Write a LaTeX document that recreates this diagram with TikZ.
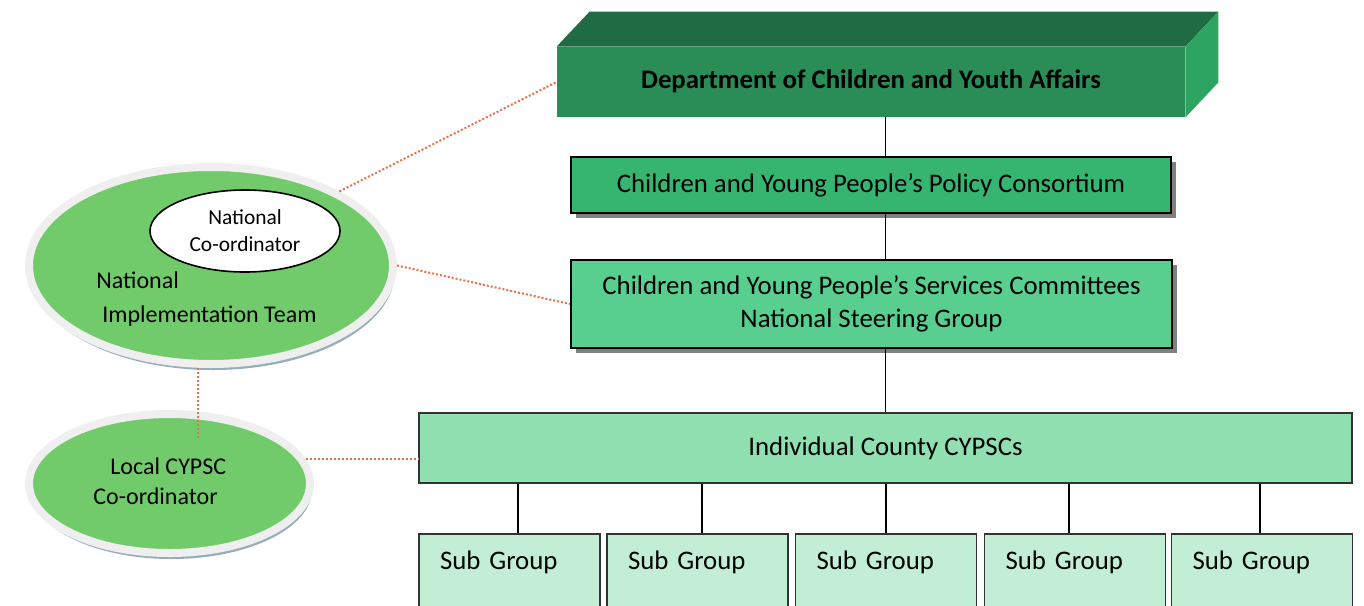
\documentclass[tikz,border=0pt]{standalone}
\usepackage{fontspec}
\setmainfont{Carlito}
\usetikzlibrary{shapes.geometric,shadows}
\definecolor{depttop}{HTML}{1F6B43}
\definecolor{deptfront}{HTML}{2A8C57}
\definecolor{deptside}{HTML}{2EA463}
\definecolor{policygreen}{HTML}{35B570}
\definecolor{servgreen}{HTML}{58CF8E}
\definecolor{countygreen}{HTML}{8FDFB1}
\definecolor{subgreen}{HTML}{C3EED6}
\definecolor{ovalgreen}{HTML}{72CB6A}
\definecolor{rimgray}{HTML}{EFEFEF}
\definecolor{rimblue}{HTML}{95AEBB}
\definecolor{linkorange}{HTML}{E8714A}

\begin{document}
\begin{tikzpicture}[x=0.5pt,y=-0.5pt,
  font=\fontsize{13.4}{16.5}\selectfont,
  box/.style={draw=black,line width=1.2pt,align=center,
    drop shadow={shadow xshift=2.5pt,shadow yshift=-2.5pt,fill=black!50,opacity=1}},
  subbox/.style={draw=black!80,line width=0.8pt,fill=subgreen,anchor=north,
    minimum width=90.5pt,text width=69.5pt,inner xsep=10.5pt,inner ysep=6pt,
    text height=12pt,text depth=32pt,align=left},
  oval/.style={ellipse,fill=ovalgreen,draw=rimgray,line width=4pt,
    drop shadow={shadow xshift=1pt,shadow yshift=-3pt,fill=rimblue,opacity=1}},
  link/.style={linkorange,line width=1pt,densely dotted},
  tie/.style={line width=0.8pt}]
\useasboundingbox (0,0) rectangle (1364,605);

% top block
\node[fill=deptfront,minimum width=314pt,minimum height=35pt,text height=11pt,text depth=5pt,
  font=\fontsize{13.4}{16}\selectfont\bfseries] (dept) at (871,82)
  {Department of Children and Youth Affairs};
\fill[depttop] (dept.north west) -- ++(16.5pt,17.5pt)
  -- ([xshift=16.5pt,yshift=17.5pt]dept.north east) -- (dept.north east) -- cycle;
\fill[deptside] (dept.north east) -- ++(16.5pt,17.5pt)
  -- ([xshift=16.5pt,yshift=17.5pt]dept.south east) -- (dept.south east) -- cycle;

\node[box,fill=policygreen,minimum width=300pt,minimum height=28pt] (policy) at (871,185)
  {Children and Young People’s Policy Consortium};
\node[box,fill=servgreen,minimum width=300.5pt,minimum height=44pt] (services) at (871.5,304)
  {Children and Young People’s Services Committees\\National Steering Group};
\node[draw=black!80,line width=0.8pt,fill=countygreen,minimum width=466.5pt,
  minimum height=35pt] (county) at (885.5,448) {Individual County CYPSCs};

\foreach \i/\x/\s in {1/509.5/4.25,2/697.5/2.25,3/886/0,4/1075/-3,5/1262/-1}{
  \node[subbox] (sub\i) at (\x,533) {Sub Group};
  \draw[tie] ([xshift=\s pt]sub\i.north) -- ([xshift=\s pt]sub\i.north |- county.south);
}

\draw[tie] (dept.south -| county) -- (policy.north -| county);
\draw[tie] (policy.south -| county) -- (services.north -| county);
\draw[tie] (services.south -| county) -- (county.north);

% left ovals
\node[oval,minimum width=182pt,minimum height=98.5pt] (nit) at (211,265.5) {};
\node[draw=black,line width=0.8pt,fill=white,ellipse,minimum width=95pt,minimum height=41pt,
  inner sep=0pt,align=center,font=\fontsize{10.7}{13.5}\selectfont] (natco) at (245,231)
  {National\\Co-ordinator};
\node[anchor=west,align=left,inner sep=0pt,font=\fontsize{12}{17}\selectfont] (nittext) at (96,299)
  {National\\\hspace*{3pt}Implementation Team};
\node[oval,minimum width=140.5pt,minimum height=69.5pt] (local) at (169.5,483.5) {};
\node[anchor=west,align=left,inner sep=0pt,font=\fontsize{12}{15}\selectfont] (localtext) at (93,481)
  {\hspace*{8.5pt}Local CYPSC\\Co-ordinator};

\coordinate (drop) at (198,440);
\draw[link] (nit.30) -- (dept.west);
\draw[link] (nit.east) -- (services.west);
\draw[link] (nit.south -| drop) -- (drop);
\draw[link] (local.10.5) -- (local.10.5 -| county.west);
\end{tikzpicture}
\end{document}
